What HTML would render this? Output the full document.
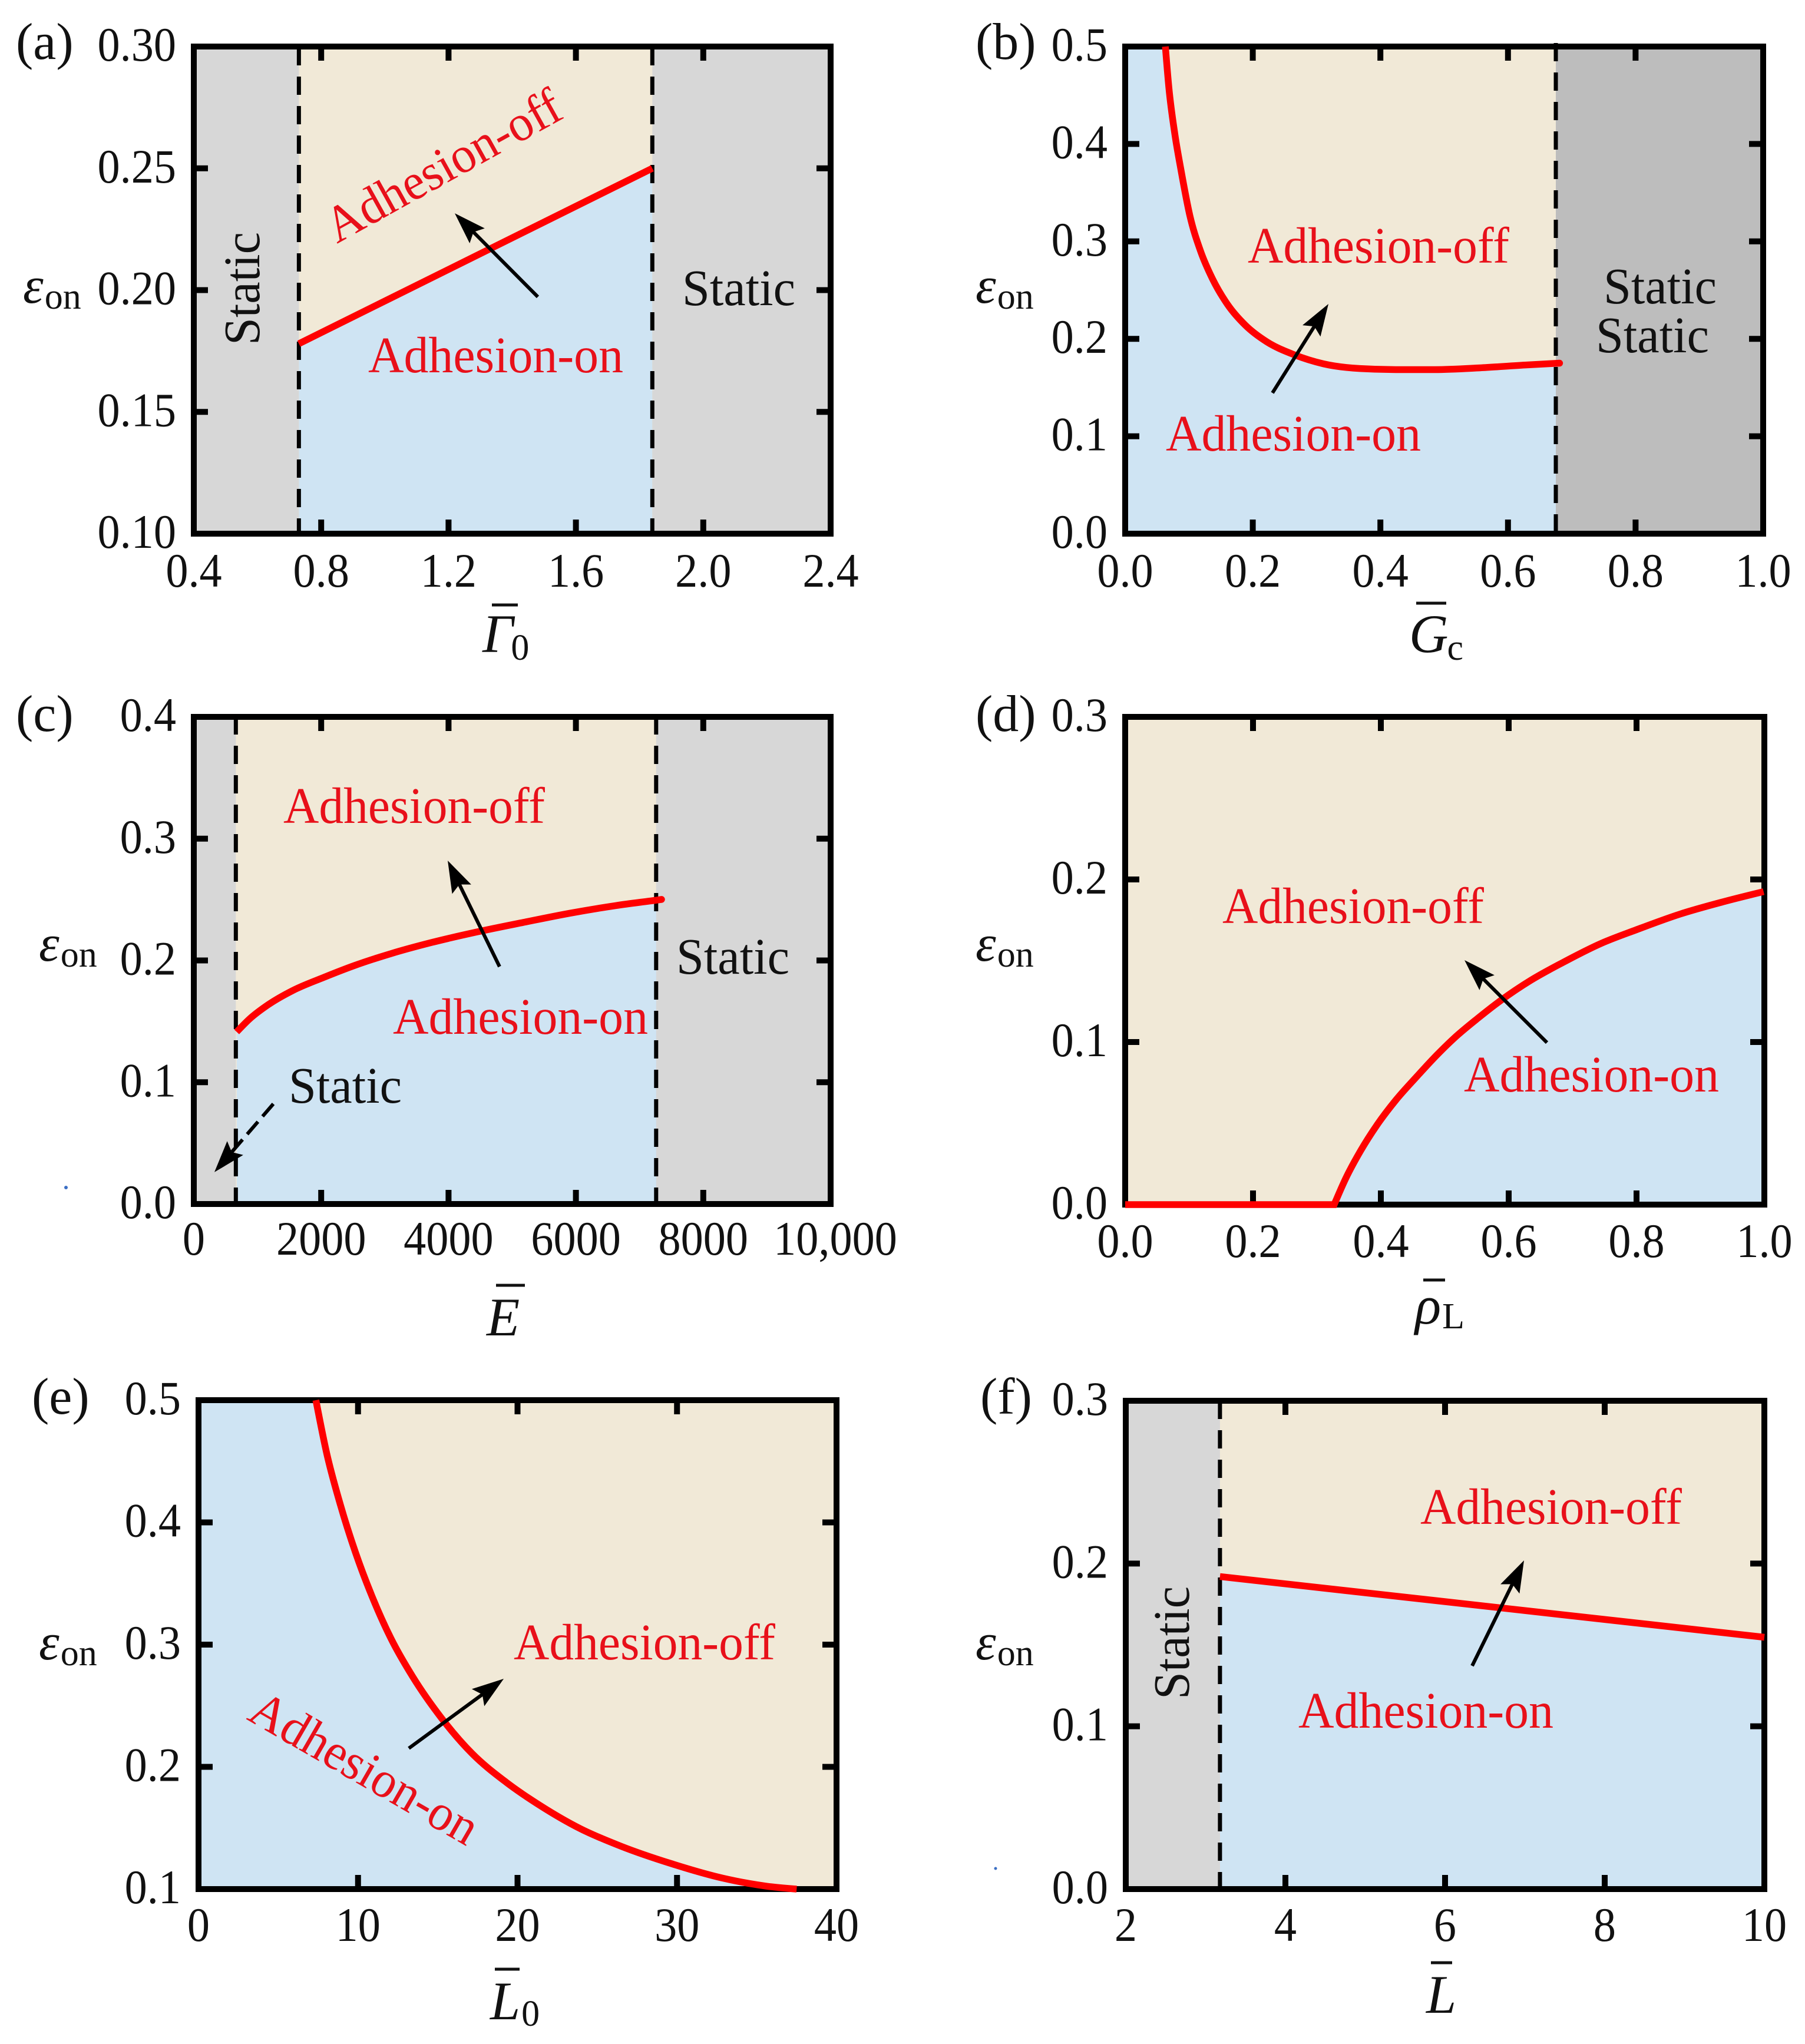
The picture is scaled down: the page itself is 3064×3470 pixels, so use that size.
<!DOCTYPE html>
<html lang="en">
<head>
<meta charset="utf-8">
<title>Adhesion phase diagrams</title>
<style>
html,body{margin:0;padding:0;background:#fff;}
svg{display:block;}
text{font-family:"Liberation Serif","DejaVu Serif",serif;fill:#111;}
.tick{font-size:82px;}
.note{font-size:87px;}
.red{fill:#e8101a;}
.letter{font-size:88px;}
.eps{font-size:88px;font-style:italic;}
.sub{font-size:62px;font-style:normal;}
.axis{font-size:92px;font-style:italic;}
.arrow{stroke:#000;stroke-width:6;fill:none;marker-end:url(#arrow-head);}
.bar{stroke:#111;stroke-width:5;}
</style>
</head>
<body>
<svg xmlns="http://www.w3.org/2000/svg" width="3064" height="3470" viewBox="0 0 3064 3470">
<defs>
<marker id="arrow-head" markerUnits="userSpaceOnUse" markerWidth="80" markerHeight="60" refX="30" refY="25" orient="auto" overflow="visible">
<path d="M55 25 L1 7 L10 25 L1 43 Z" fill="#000"/>
</marker>
</defs>
<rect width="3064" height="3470" fill="#fff"/>

<g>
<g id="marks-a"></g>
<text class="letter" x="27" y="100">(a)</text>
<text class="eps" x="39" y="514">ε<tspan class="sub" dx="2" dy="10">on</tspan></text>
<text class="axis" x="819" y="1107">Γ<tspan class="sub" dx="-4" dy="13">0</tspan></text>
<line class="bar" x1="835" x2="879" y1="1027" y2="1027"/>
<text class="note red" transform="translate(572 414) rotate(-29)" textLength="444" lengthAdjust="spacingAndGlyphs">Adhesion-off</text>
<text class="note red" x="625" y="632" textLength="433" lengthAdjust="spacingAndGlyphs">Adhesion-on</text>
<text class="note" transform="translate(440 586) rotate(-90)" textLength="192" lengthAdjust="spacingAndGlyphs">Static</text>
<text class="note" x="1158" y="518" textLength="192" lengthAdjust="spacingAndGlyphs">Static</text>
<line class="arrow" x1="913" y1="504" x2="789.6" y2="379.8"/>
</g>

<g>
<g id="marks-b"></g>
<text class="letter" x="1656" y="100">(b)</text>
<text class="eps" x="1656" y="514">ε<tspan class="sub" dx="2" dy="10">on</tspan></text>
<text class="axis" x="2392" y="1107">G<tspan class="sub" dx="-2" dy="13">c</tspan></text>
<line class="bar" x1="2404" x2="2455" y1="1024" y2="1024"/>
<text class="note red" x="2118" y="446" textLength="444" lengthAdjust="spacingAndGlyphs">Adhesion-off</text>
<text class="note red" x="1979" y="765" textLength="433" lengthAdjust="spacingAndGlyphs">Adhesion-on</text>
<text class="note" x="2722" y="515" textLength="192" lengthAdjust="spacingAndGlyphs">Static</text>
<text class="note" x="2709" y="598" textLength="192" lengthAdjust="spacingAndGlyphs">Static</text>
<line class="arrow" x1="2160" y1="667" x2="2241.7" y2="537.2"/>
</g>

<g>
<g id="marks-c"></g>
<text class="letter" x="27" y="1241">(c)</text>
<text class="eps" x="66" y="1631">ε<tspan class="sub" dx="2" dy="10">on</tspan></text>
<text class="axis" x="826" y="2267">E</text>
<line class="bar" x1="842" x2="891" y1="2182" y2="2182"/>
<text class="note red" x="481" y="1397" textLength="444" lengthAdjust="spacingAndGlyphs">Adhesion-off</text>
<text class="note red" x="667" y="1755" textLength="433" lengthAdjust="spacingAndGlyphs">Adhesion-on</text>
<text class="note" x="1148" y="1653" textLength="192" lengthAdjust="spacingAndGlyphs">Static</text>
<text class="note" x="490" y="1872" textLength="192" lengthAdjust="spacingAndGlyphs">Static</text>
<line class="arrow" x1="848" y1="1641" x2="771" y2="1483.5"/>
<line class="arrow" stroke-dasharray="28 12" x1="464" y1="1874" x2="380.3" y2="1971"/>
<circle cx="112" cy="2016" r="3" fill="#3b6fc4"/>
</g>

<g>
<g id="marks-d"></g>
<text class="letter" x="1656" y="1241">(d)</text>
<text class="eps" x="1656" y="1631">ε<tspan class="sub" dx="2" dy="10">on</tspan></text>
<text class="axis" x="2402" y="2247">ρ<tspan class="sub" dx="2" dy="8">L</tspan></text>
<line class="bar" x1="2416" x2="2453" y1="2173" y2="2173"/>
<text class="note red" x="2075" y="1567" textLength="444" lengthAdjust="spacingAndGlyphs">Adhesion-off</text>
<text class="note red" x="2485" y="1853" textLength="433" lengthAdjust="spacingAndGlyphs">Adhesion-on</text>
<line class="arrow" x1="2626" y1="1770" x2="2503.7" y2="1647.7"/>
</g>

<g>
<g id="marks-e"></g>
<text class="letter" x="54" y="2400">(e)</text>
<text class="eps" x="66" y="2817">ε<tspan class="sub" dx="2" dy="10">on</tspan></text>
<text class="axis" x="832" y="3428">L<tspan class="sub" dx="2" dy="11">0</tspan></text>
<line class="bar" x1="840" x2="882" y1="3343" y2="3343"/>
<text class="note red" x="872" y="2817" textLength="444" lengthAdjust="spacingAndGlyphs">Adhesion-off</text>
<text class="note red" transform="translate(417 2918) rotate(30)" textLength="433" lengthAdjust="spacingAndGlyphs">Adhesion-on</text>
<line class="arrow" x1="694" y1="2968" x2="834.9" y2="2864.8"/>
</g>

<g>
<g id="marks-f"></g>
<text class="letter" x="1664" y="2400">(f)</text>
<text class="eps" x="1656" y="2817">ε<tspan class="sub" dx="2" dy="10">on</tspan></text>
<text class="axis" x="2421" y="3417">L</text>
<line class="bar" x1="2429" x2="2465" y1="3332" y2="3332"/>
<text class="note red" x="2411" y="2587" textLength="444" lengthAdjust="spacingAndGlyphs">Adhesion-off</text>
<text class="note red" x="2204" y="2933" textLength="433" lengthAdjust="spacingAndGlyphs">Adhesion-on</text>
<text class="note" transform="translate(2018 2885) rotate(-90)" textLength="192" lengthAdjust="spacingAndGlyphs">Static</text>
<line class="arrow" x1="2499" y1="2828" x2="2576" y2="2671.4"/>
<circle cx="1690" cy="3172" r="2.5" fill="#3b6fc4"/>
</g>
</svg>

<script>
// Panel (a)
const aXTicks = ['0.4', '0.8', '1.2', '1.6', '2.0', '2.4'];
const aYTicks = ['0.10', '0.15', '0.20', '0.25', '0.30'];
const aCurveX = [0.73, 1.84];
const aCurveY = [0.178, 0.25];
const aBoundaries = [0.73, 1.84];
// Panel (b)
const bXTicks = ['0.0', '0.2', '0.4', '0.6', '0.8', '1.0'];
const bYTicks = ['0.0', '0.1', '0.2', '0.3', '0.4', '0.5'];
const bCurveX = [0.063, 0.0685, 0.0779, 0.0873, 0.1015, 0.118, 0.1368, 0.1604, 0.1886, 0.2216, 0.264, 0.3111, 0.3677, 0.4242, 0.4854, 0.556, 0.6268, 0.6809];
const bCurveY = [0.5, 0.4577, 0.4099, 0.3739, 0.3261, 0.2903, 0.2616, 0.2353, 0.2138, 0.1971, 0.1839, 0.1743, 0.1695, 0.1684, 0.1684, 0.1702, 0.1731, 0.175];
const bBoundaries = [0.675];
// Panel (c)
const cXTicks = ['0', '2000', '4000', '6000', '8000', '10,000'];
const cYTicks = ['0.0', '0.1', '0.2', '0.3', '0.4'];
const cCurveX = [673, 876, 1166, 1553, 2037, 2521, 3102, 3731, 4456, 5182, 5907, 6633, 7262, 7345];
const cCurveY = [0.1413, 0.152, 0.1636, 0.1753, 0.186, 0.1958, 0.2057, 0.2147, 0.2235, 0.2313, 0.2388, 0.2451, 0.2495, 0.2501];
const cBoundaries = [660, 7260];
// Panel (d)
const dXTicks = ['0.0', '0.2', '0.4', '0.6', '0.8', '1.0'];
const dYTicks = ['0.0', '0.1', '0.2', '0.3'];
const dCurveX = [0, 0.327, 0.3453, 0.3683, 0.3935, 0.4233, 0.4554, 0.4876, 0.515, 0.5517, 0.5884, 0.6343, 0.6847, 0.7443, 0.7994, 0.8681, 0.9369, 0.9988];
const dCurveY = [0, 0, 0.0163, 0.0331, 0.0487, 0.0642, 0.0784, 0.092, 0.1025, 0.1146, 0.1258, 0.1379, 0.1489, 0.1606, 0.169, 0.1787, 0.1864, 0.1925];
// Panel (e)
const eXTicks = ['0', '10', '20', '30', '40'];
const eYTicks = ['0.1', '0.2', '0.3', '0.4', '0.5'];
const eCurveX = [7.36, 8.04, 8.89, 9.84, 10.9, 12.07, 13.44, 15.25, 17.16, 19.28, 21.4, 23.94, 26.48, 29.67, 32.85, 35.6, 37.5];
const eCurveY = [0.5, 0.4563, 0.4146, 0.3754, 0.3388, 0.3049, 0.2735, 0.2396, 0.2108, 0.1875, 0.1685, 0.1494, 0.1351, 0.1207, 0.109, 0.1024, 0.1];
// Panel (f)
const fXTicks = ['2', '4', '6', '8', '10'];
const fYTicks = ['0.0', '0.1', '0.2', '0.3'];
const fCurveX = [3.18, 10];
const fCurveY = [0.192, 0.1547];
const fBoundaries = [3.18];

const SVGNS = 'http://www.w3.org/2000/svg';
const BEIGE = '#f1e9d7';
const BLUE = '#cfe4f3';

function add(parent, tag, name, attrs, content) {
  const el = document.createElementNS(SVGNS, tag);
  
  
  Object.keys(attrs).forEach(function (k) { el.setAttribute(k, attrs[k]); });
  if (content !== undefined) el.textContent = content;
  parent.appendChild(el);
  return el;
}

function num(label) { return Number(label.replace(/,/g, '')); }

// Monotone cubic path through pixel points, so curves never overshoot.
function monotoneSegment(pts) {
  const n = pts.length;
  if (n < 3) return pts.slice(1).map(function (p) { return 'L' + p[0] + ' ' + p[1]; }).join('');
  const h = [], s = [], m = [];
  for (let i = 0; i < n - 1; i++) {
    h[i] = pts[i + 1][0] - pts[i][0];
    s[i] = (pts[i + 1][1] - pts[i][1]) / h[i];
  }
  for (let i = 1; i < n - 1; i++) {
    const p = (s[i - 1] * h[i] + s[i] * h[i - 1]) / (h[i - 1] + h[i]);
    m[i] = (Math.sign(s[i - 1]) + Math.sign(s[i])) * Math.min(Math.abs(s[i - 1]), Math.abs(s[i]), 0.5 * Math.abs(p));
  }
  m[0] = (3 * s[0] - m[1]) / 2;
  m[n - 1] = (3 * s[n - 2] - m[n - 2]) / 2;
  let d = '';
  for (let i = 0; i < n - 1; i++) {
    const dx = h[i] / 3;
    d += 'C' + (pts[i][0] + dx) + ' ' + (pts[i][1] + m[i] * dx) + ' ' +
      (pts[i + 1][0] - dx) + ' ' + (pts[i + 1][1] - m[i + 1] * dx) + ' ' +
      pts[i + 1][0] + ' ' + pts[i + 1][1];
  }
  return d;
}

// A leading flat run (panel d) stays straight, leaving a sharp corner where the curve rises.
function curvePath(pts) {
  let k = 0;
  while (k < pts.length - 2 && pts[k + 1][1] === pts[k][1]) k++;
  let d = 'M' + pts[0][0] + ' ' + pts[0][1];
  if (k > 0) d += 'L' + pts[k][0] + ' ' + pts[k][1];
  return d + monotoneSegment(pts.slice(k));
}

function drawPanel(c) {
  const g = document.getElementById('marks-' + c.id);
  const p = 'panel-' + c.id + '-';
  const f = c.frame;
  const xs = c.xTicks.map(num), ys = c.yTicks.map(num);
  const xMin = xs[0], xMax = xs[xs.length - 1], yMin = ys[0], yMax = ys[ys.length - 1];
  const X = function (v) { return f.l + (v - xMin) / (xMax - xMin) * (f.r - f.l); };
  const Y = function (v) { return f.b - (v - yMin) / (yMax - yMin) * (f.b - f.t); };

  add(g, 'rect', p + 'adhesion-off-region', { x: f.l, y: f.t, width: f.r - f.l, height: f.b - f.t, fill: BEIGE });

  const pts = c.curveX.map(function (x, i) { return [X(x), Y(c.curveY[i])]; });
  const line = curvePath(pts);
  let region = line + 'L' + pts[pts.length - 1][0] + ' ' + Y(yMin);
  if (c.curveY[0] >= yMax) {
    region += 'L' + X(xMin) + ' ' + Y(yMin) + 'L' + X(xMin) + ' ' + Y(yMax);
  } else {
    region += 'L' + pts[0][0] + ' ' + Y(yMin);
  }
  region += 'Z';
  add(g, 'path', p + 'adhesion-on-region', { d: region, fill: BLUE });

  if (c.staticBefore !== undefined) {
    add(g, 'rect', p + 'static-region-left', { x: f.l, y: f.t, width: X(c.staticBefore) - f.l, height: f.b - f.t, fill: c.staticColor });
  }
  if (c.staticAfter !== undefined) {
    add(g, 'rect', p + 'static-region-right', { x: X(c.staticAfter), y: f.t, width: f.r - X(c.staticAfter), height: f.b - f.t, fill: c.staticColor });
  }

  add(g, 'rect', p + 'frame', { x: f.l, y: f.t, width: f.r - f.l, height: f.b - f.t, fill: 'none', stroke: '#000', 'stroke-width': 10 });

  xs.forEach(function (v, i) {
    if (i > 0 && i < xs.length - 1) {
      add(g, 'line', p + 'x-tick-bottom', { x1: X(v), x2: X(v), y1: f.b, y2: f.b - 24, stroke: '#000', 'stroke-width': 10 });
      add(g, 'line', p + 'x-tick-top', { x1: X(v), x2: X(v), y1: f.t, y2: f.t + 24, stroke: '#000', 'stroke-width': 10 });
    }
    const shift = c.xTicks[i].length > 5 ? 8 : 0;
    add(g, 'text', p + 'x-tick-label', { class: 'tick', transform: 'translate(' + (X(v) + shift) + ' ' + (f.b + c.xLabelGap) + ') scale(0.93 1)', 'text-anchor': 'middle' }, c.xTicks[i]);
  });
  ys.forEach(function (v, i) {
    if (i > 0 && i < ys.length - 1) {
      add(g, 'line', p + 'y-tick-left', { x1: f.l, x2: f.l + 24, y1: Y(v), y2: Y(v), stroke: '#000', 'stroke-width': 10 });
      add(g, 'line', p + 'y-tick-right', { x1: f.r, x2: f.r - 24, y1: Y(v), y2: Y(v), stroke: '#000', 'stroke-width': 10 });
    }
    add(g, 'text', p + 'y-tick-label', { class: 'tick', transform: 'translate(' + (f.l - 30) + ' ' + (Y(v) + 24) + ') scale(0.93 1)', 'text-anchor': 'end' }, c.yTicks[i]);
  });

  (c.boundaries || []).forEach(function (v) {
    add(g, 'line', p + 'static-boundary', { x1: X(v), x2: X(v), y1: f.t + c.dashStart, y2: f.b, stroke: '#000', 'stroke-width': 7, 'stroke-dasharray': '31 19' });
  });

  add(g, 'path', p + 'threshold-curve', { d: line, fill: 'none', stroke: '#ff0000', 'stroke-width': 11.5 });
  if (c.roundEnd) {
    const e = pts[pts.length - 1];
    add(g, 'circle', p + 'threshold-curve-end', { cx: e[0], cy: e[1], r: 5.75, fill: '#ff0000' });
  }
}

drawPanel({ id: 'a', frame: { l: 329, r: 1410, t: 79, b: 906 }, xLabelGap: 90, xTicks: aXTicks, yTicks: aYTicks, dashStart: 1,
  curveX: aCurveX, curveY: aCurveY, boundaries: aBoundaries, staticBefore: aBoundaries[0], staticAfter: aBoundaries[1], staticColor: '#d7d7d7' });
drawPanel({ id: 'b', frame: { l: 1910, r: 2993, t: 79, b: 906 }, xLabelGap: 90, xTicks: bXTicks, yTicks: bYTicks, dashStart: -6, roundEnd: true,
  curveX: bCurveX, curveY: bCurveY, boundaries: bBoundaries, staticAfter: bBoundaries[0], staticColor: '#bdbdbd' });
drawPanel({ id: 'c', frame: { l: 329, r: 1410, t: 1217, b: 2044 }, xLabelGap: 86, xTicks: cXTicks, yTicks: cYTicks, dashStart: -1, roundEnd: true,
  curveX: cCurveX, curveY: cCurveY, boundaries: cBoundaries, staticBefore: cBoundaries[0], staticAfter: cBoundaries[1], staticColor: '#d7d7d7' });
drawPanel({ id: 'd', frame: { l: 1910, r: 2995, t: 1217, b: 2045 }, xLabelGap: 89, xTicks: dXTicks, yTicks: dYTicks, dashStart: 0,
  curveX: dCurveX, curveY: dCurveY });
drawPanel({ id: 'e', frame: { l: 337, r: 1420, t: 2377, b: 3207 }, xLabelGap: 88, xTicks: eXTicks, yTicks: eYTicks, dashStart: 0,
  curveX: eCurveX, curveY: eCurveY });
drawPanel({ id: 'f', frame: { l: 1911, r: 2995, t: 2378, b: 3207 }, xLabelGap: 88, xTicks: fXTicks, yTicks: fYTicks, dashStart: 0,
  curveX: fCurveX, curveY: fCurveY, boundaries: fBoundaries, staticBefore: fBoundaries[0], staticColor: '#d7d7d7' });
</script>
</body>
</html>
